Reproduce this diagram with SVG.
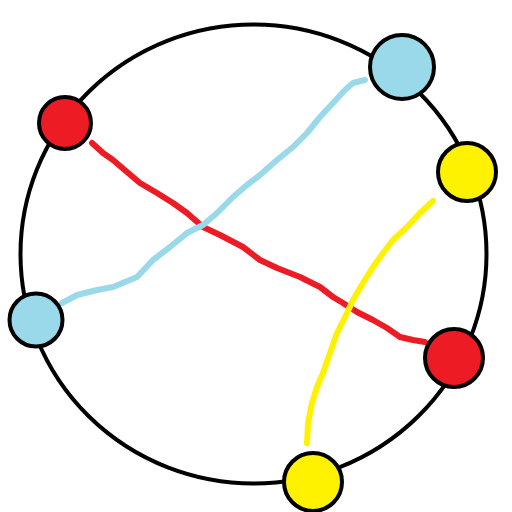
<svg xmlns="http://www.w3.org/2000/svg" width="512" height="512" viewBox="0 0 512 512">
<style>
.ring{fill:none;stroke:#000;stroke-width:4}
.dot{stroke:#000;stroke-width:4}
.red{fill:#ED1C24}
.blue{fill:#99D9EA}
.yellow{fill:#FFF200}
.link{fill:none;stroke-width:6;stroke-linecap:round;stroke-linejoin:round}
</style>
<rect width="512" height="512" fill="#fff"/>
<ellipse id="ring" class="ring" cx="253.5" cy="254" rx="233" ry="229.5"/>
<g id="connectors">
<polyline class="link" stroke="#ED1C24" points="92,143 103,153 113,160 127,172 140,183 157,193 173,203 187,213 203,227 220,235 243,247 260,260 277,268 300,277 320,287 333,297 343,303 357,312 373,320 387,328 400,337 413,340 425,342"/>
<polyline class="link" stroke="#99D9EA" points="365,80 353,83 345,90 333,103 320,117 307,133 293,147 277,160 260,175 247,185 233,197 217,213 203,225 187,233 170,247 153,260 137,277 113,287 97,290 77,295 62,303"/>
<polyline class="link" stroke="#FFF200" points="433,201 420,213 407,227 393,240 383,253 373,267 363,283 353,300 347,313 337,333 330,353 323,373 317,387 312,403 308,423 307,443"/>
</g>
<g id="red-left"><circle class="dot red" cx="65" cy="123" r="26"/></g>
<g id="blue-top"><circle class="dot blue" cx="402" cy="67" r="32"/></g>
<g id="yellow-right"><circle class="dot yellow" cx="467" cy="172" r="29"/></g>
<g id="blue-left"><circle class="dot blue" cx="36" cy="320" r="26.5"/></g>
<g id="red-right"><circle class="dot red" cx="454" cy="358" r="29"/></g>
<g id="yellow-bottom"><circle class="dot yellow" cx="313" cy="482" r="29"/></g>
</svg>
